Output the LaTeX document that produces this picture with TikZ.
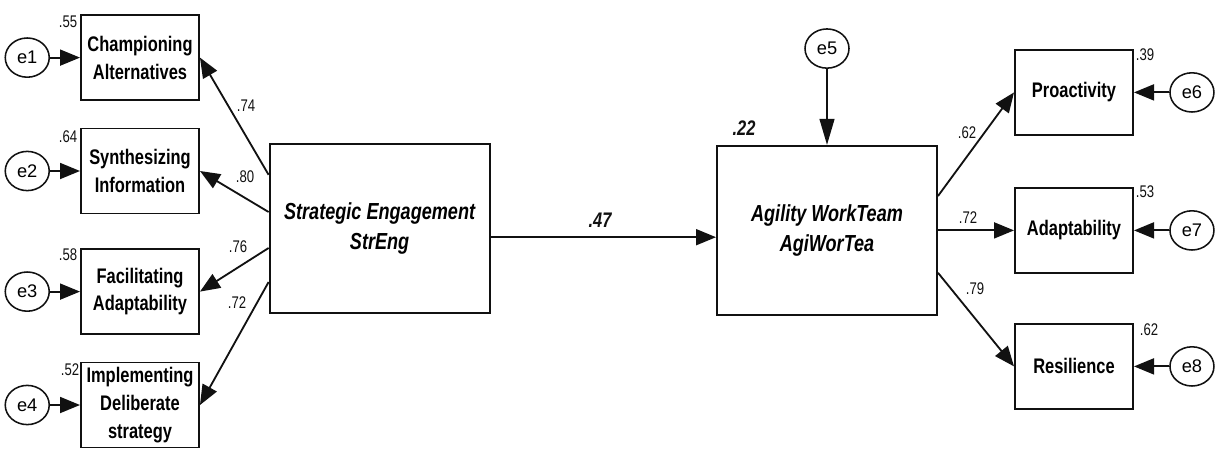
\documentclass[tikz,border=0pt]{standalone}
\usepackage{fontspec}
\setmainfont{Liberation Sans}[FakeStretch=0.78]
\newfontfamily\errfont{Liberation Sans}
\usetikzlibrary{arrows.meta,positioning,calc,shapes.geometric}
\definecolor{ink}{HTML}{111111}

\begin{document}
\begin{tikzpicture}[
  x=1cm, y=1cm,
  obs/.style={draw=ink, fill=white, line width=1.4pt, align=center, inner sep=0pt,
              minimum width=2.95cm, minimum height=2.125cm,
              font=\bfseries\fontsize{15}{19.8}\selectfont},
  lat/.style={draw=ink, fill=white, line width=1.4pt, align=center, inner sep=0pt,
              minimum width=5.5cm, minimum height=4.225cm,
              font=\bfseries\itshape\fontsize{16.5}{21.3}\selectfont},
  err/.style={draw=ink, ellipse, line width=1.1pt, inner sep=0pt,
              minimum width=1.1cm, minimum height=0.98cm,
              font=\errfont\fontsize{13}{14}\selectfont},
  coef/.style={font=\fontsize{12}{13}\selectfont, text=ink, inner sep=1pt},
  beta/.style={font=\bfseries\itshape\fontsize{15}{16}\selectfont, text=ink, inner sep=1pt},
  ar/.style={-{Triangle[length=0.5cm, width=0.4cm]}, draw=ink, line width=1.3pt},
]
\useasboundingbox (0,0) rectangle (30.4,-11.2);

%% ---- latent variables ----
\node[lat] (streng) at (9.49,-5.71)   {Strategic Engagement\\StrEng};
\node[lat] (agiwor) at (20.675,-5.76) {Agility WorkTeam\\AgiWorTea};

%% ---- indicators of StrEng ----
\node[obs] (champ) at (3.5,-1.44)   {Championing\\Alternatives};
\node[obs] (synth) at (3.5,-4.275)  {Synthesizing\\Information};
\node[obs] (facil) at (3.5,-7.29)   {Facilitating\\Adaptability};
\node[obs] (impl)  at (3.5,-10.125) {Implementing\\Deliberate\\strategy};

%% ---- indicators of AgiWorTea ----
\node[obs] (proac) at (26.85,-2.31) {Proactivity};
\node[obs] (adapt) at (26.85,-5.76) {Adaptability};
\node[obs] (resil) at (26.85,-9.16) {Resilience};

%% ---- error terms ----
\node[err, left=0.75cm of champ] (e1) {e1};
\node[err, left=0.75cm of synth] (e2) {e2};
\node[err, left=0.75cm of facil] (e3) {e3};
\node[err, left=0.75cm of impl]  (e4) {e4};
\node[err, above=1.9cm of agiwor] (e5) {e5};
\node[err, right=0.88cm of proac] (e6) {e6};
\node[err, right=0.88cm of adapt] (e7) {e7};
\node[err, right=0.88cm of resil] (e8) {e8};

\foreach \e/\b in {e1/champ,e2/synth,e3/facil,e4/impl,e6/proac,e7/adapt,e8/resil}
  \draw[ar] (\e) -- (\b);
\draw[ar, -{Triangle[length=0.65cm, width=0.37cm]}] (e5) -- (agiwor);

%% ---- loadings ----
\foreach \dy/\b in {1.34/champ, 0.41/synth, -0.49/facil, -1.34/impl}
  \draw[ar] ($(streng.west)+(0,\dy)$) -- (\b.east);
\foreach \dy/\b in {0.86/proac, 0/adapt, -1.06/resil}
  \draw[ar] ($(agiwor.east)+(0,\dy)$) -- (\b.west);

%% ---- structural path ----
\coordinate (path) at (15,-5.93);
\draw[ar] (streng.east |- path) -- (agiwor.west |- path);
\node[beta] (b47) at (15.0,-5.5) {.47};
\node[beta] (r22) at (18.6,-3.2) {.22};

%% ---- standardized estimates ----
\node[coef] (l1) at (6.15,-2.65)   {.74};
\node[coef] (l2) at (6.125,-4.425) {.80};
\node[coef] (l3) at (5.95,-6.175)  {.76};
\node[coef] (l4) at (5.925,-7.575) {.72};
\node[coef] (l5) at (24.175,-3.325) {.62};
\node[coef] (l6) at (24.2,-5.45)    {.72};
\node[coef] (l7) at (24.375,-7.225) {.79};

%% ---- squared multiple correlations ----
\node[coef] (r1) at (1.7,-0.55)    {.55};
\node[coef] (r2) at (1.7,-3.425)   {.64};
\node[coef] (r3) at (1.7,-6.375)   {.58};
\node[coef] (r4) at (1.75,-9.25)   {.52};
\node[coef] (r6) at (28.625,-1.375) {.39};
\node[coef] (r7) at (28.625,-4.8)   {.53};
\node[coef] (r8) at (28.725,-8.25)  {.62};

\end{tikzpicture}
\end{document}
